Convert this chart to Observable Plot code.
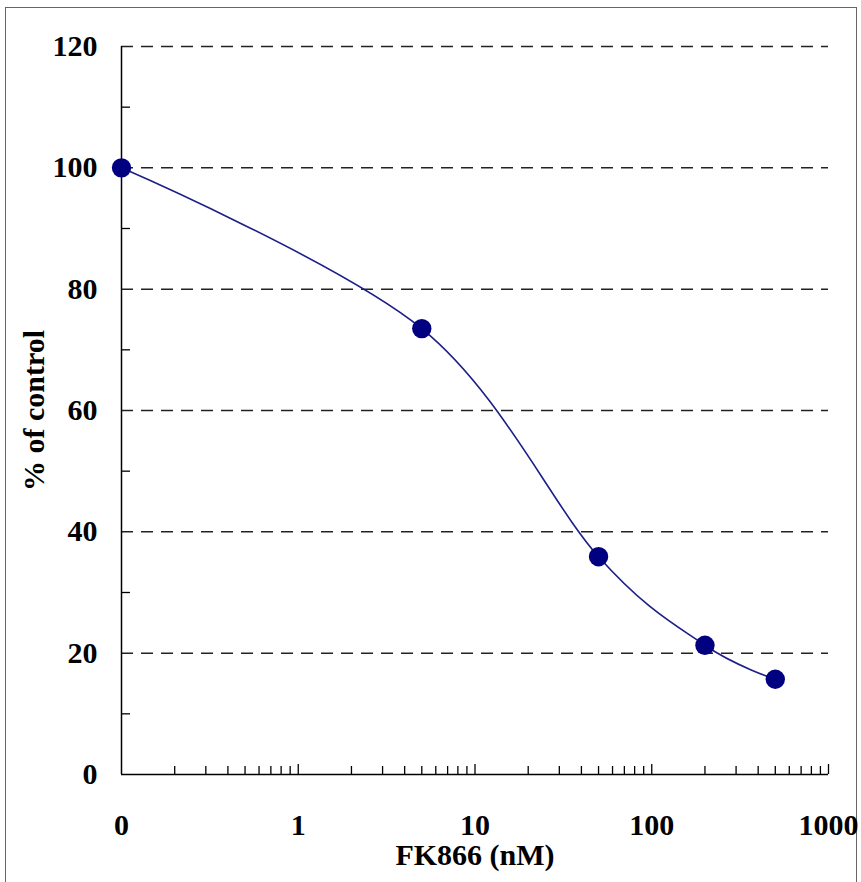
<!DOCTYPE html>
<html>
<head>
<meta charset="utf-8">
<script src="https://cdn.jsdelivr.net/npm/d3@7"></script>
<script src="https://cdn.jsdelivr.net/npm/@observablehq/plot@0.6"></script>
<style>
  html, body { margin: 0; padding: 0; background: #fff; }
  #wrap { position: relative; width: 861px; height: 882px; overflow: hidden; }
  #frame { position: absolute; left: 5px; top: 7px; width: 852px; height: 900px;
           border: 1.5px solid #666; border-bottom: none; box-sizing: border-box; }
  #chart { position: absolute; left: 0; top: 0; }
</style>
</head>
<body>
<div id="wrap"><div id="frame"></div><div id="chart"></div></div>
<script>
// ---- data ----
const concentrations = [0, 5, 50, 200, 500];          // FK866 (nM)
const percentControl = [100, 73.5, 35.9, 21.3, 15.7]; // % of control
const zeroPosition = 0.1;                              // where "0" is drawn on the log axis
const xTickValues = [0.1, 1, 10, 100, 1000];
const xTickLabels = ["0", "1", "10", "100", "1000"];
const yTickValues = [0, 20, 40, 60, 80, 100, 120];
const yMinorTicks = [10, 30, 50, 70, 90, 110];
const xLabel = "FK866 (nM)";
const yLabel = "% of control";

const data = concentrations.map((c, i) => ({x: c === 0 ? zeroPosition : c, y: percentControl[i]}));
const xMinor = [];
for (const d of [0.1, 1, 10, 100]) for (let k = 2; k <= 9; k++) xMinor.push(+(k * d).toPrecision(3));
const xMajor = xTickValues.filter(v => v > zeroPosition);

const font = "'Liberation Serif', 'Times New Roman', serif";
const chart = Plot.plot({
  width: 861, height: 882,
  marginLeft: 121, marginRight: 33, marginTop: 46, marginBottom: 108,
  x: {type: "log", domain: [0.1, 1000]},
  y: {domain: [0, 120]},
  style: {fontFamily: font, fontWeight: "bold", fontSize: "30px", color: "black", background: "transparent"},
  marks: [
    Plot.ruleY(yTickValues.filter(v => v > 0), {stroke: "#222", strokeWidth: 1.5, strokeDasharray: "12,8"}),
    Plot.tickY(yMinorTicks, {y: d => d, stroke: "black", strokeWidth: 1.3, insetRight: 698}),
    Plot.tickX(xMinor, {x: d => d, stroke: "black", strokeWidth: 1.3, insetTop: 720}),
    Plot.tickX(xMajor, {x: d => d, stroke: "black", strokeWidth: 1.3, insetTop: 718}),
    Plot.ruleX([zeroPosition], {stroke: "black", strokeWidth: 1.5}),
    Plot.ruleY([0], {stroke: "black", strokeWidth: 1.5}),
    Plot.axisY(yTickValues, {tickSize: 0, tickPadding: 24, label: null, fontSize: 30, fontWeight: "bold", fontFamily: font}),
    Plot.axisX(xTickValues, {tickSize: 0, tickPadding: 39, label: null, fontSize: 30, fontWeight: "bold", fontFamily: font,
      tickFormat: d => xTickLabels[xTickValues.indexOf(d)]}),
    Plot.text([xLabel], {text: d => d, frameAnchor: "bottom", dy: 81, lineAnchor: "middle", textAnchor: "middle",
      fontSize: 30, fontWeight: "bold", fontFamily: font, fill: "black"}),
    Plot.text([yLabel], {text: d => d, frameAnchor: "left", dx: -87.5, rotate: -90, lineAnchor: "middle", textAnchor: "middle",
      fontSize: 30, fontWeight: "bold", fontFamily: font, fill: "black"}),
    Plot.line(data, {x: "x", y: "y", curve: "cardinal", stroke: "#1c1f86", strokeWidth: 1.6}),
    Plot.dot(data, {x: "x", y: "y", r: 9.7, fill: "#000080", stroke: "none"})
  ]
});
document.getElementById("chart").appendChild(chart);
</script>
</body>
</html>
